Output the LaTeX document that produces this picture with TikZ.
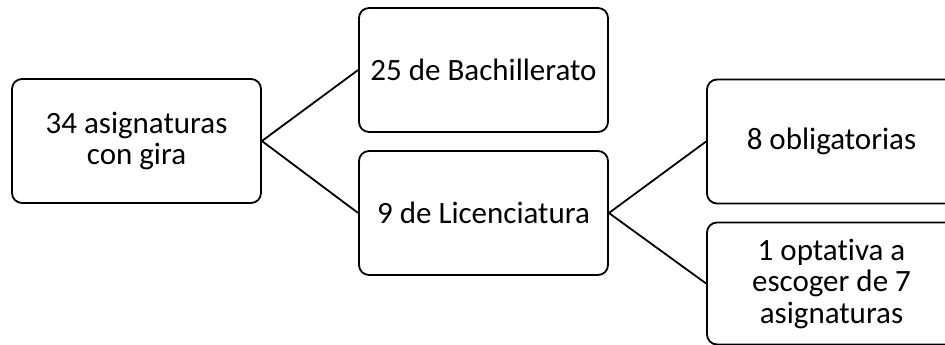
\documentclass[tikz,border=0pt]{standalone}
\usepackage{fontspec}
\setmainfont{Carlito}[Ligatures=NoCommon]
\begin{document}
\begin{tikzpicture}[x=1pt,y=-1pt,line width=1.8pt,
	every node/.style={draw,rounded corners=10pt,minimum width=249pt,minimum height=124pt,align=center,inner sep=0pt,font=\fontsize{31}{31.5}\selectfont}]
		\useasboundingbox (0,0) rectangle (945,345);
		\node (total) at (136.5,141) {34 asignaturas\\con gira};
		\node (bach)  at (483.5,70)  {25 de Bachillerato};
		\node (lic)   at (483.5,213) {9 de Licenciatura};
		\node (oblig) at (831.5,141.5) {8 obligatorias};
		\node[minimum height=122pt] (opt) at (831.5,283.5) {1 optativa a\\escoger de 7\\asignaturas};

		\foreach \from/\to in {total/bach,total/lic,lic/oblig,lic/opt}
	    	\draw (\from.east) -- (\to.west);
	\end{tikzpicture}
\end{document}
